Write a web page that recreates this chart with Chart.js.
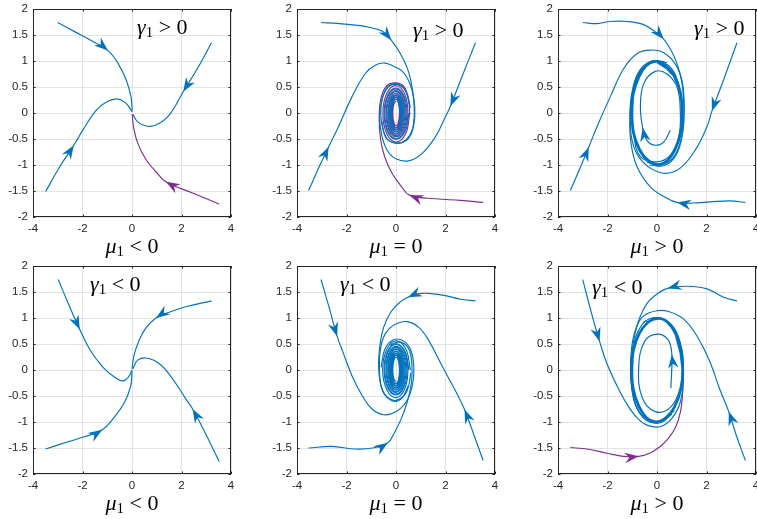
<!DOCTYPE html>
<html>
<head>
<meta charset="utf-8">
<script src="https://cdn.jsdelivr.net/npm/chart.js@4.4.1/dist/chart.umd.min.js"></script>
<style>
  body { margin: 0; width: 757px; height: 519px; background: #fff; position: relative; overflow: hidden; }
  canvas { position: absolute; }
  .lab { position: absolute; font-family: "Liberation Serif", "DejaVu Serif", serif; font-size: 22px; line-height: 22px; color: #000; white-space: nowrap; }
  .lab i { font-style: italic; }
  .lab sub { font-size: 0.68em; vertical-align: -0.22em; line-height: 0; }
</style>
</head>
<body>
<script>
// tick values shared by every panel
const xTickValues = [-4, -2, 0, 2, 4];
const yTickValues = [-2, -1.5, -1, -0.5, 0, 0.5, 1, 1.5, 2];

// bottom labels (mu_1 relation) and inner labels (gamma_1 relation)
const muRelations = ['<', '=', '>', '<', '=', '>'];
const gammaRelations = ['>', '>', '>', '<', '<', '<'];

// ---- panel 1 : mu<0, gamma>0
const p1A = [[-3.0,1.74],[-2.3,1.56],[-1.6,1.38],[-0.97,1.2],[-0.57,0.96],[-0.23,0.63],[-0.04,0.31],[0.01,0.04]];
const p1B = [[-3.49,-1.51],[-2.9,-1.02],[-2.35,-0.62],[-1.95,-0.3],[-1.45,0.05],[-1.0,0.22],[-0.57,0.27],[-0.25,0.19],[-0.07,0.08],[0.01,0.02]];
const p1C = [[3.21,1.35],[2.65,0.86],[2.07,0.41],[1.5,-0.04],[0.97,-0.23],[0.57,-0.25],[0.23,-0.17],[0.04,-0.03]];
const p1D = [[3.52,-1.75],[2.45,-1.54],[1.37,-1.32],[0.97,-1.13],[0.57,-0.9],[0.23,-0.58],[0.06,-0.26],[0.01,-0.02]];

// ---- panel 2 : mu=0, gamma>0
const p2E = [[-3.03,1.74],[-2.3,1.72],[-1.64,1.69],[-1.1,1.65],[-0.55,1.57],[-0.19,1.4],[0.2,1.12],[0.5,0.8],[0.68,0.4],[0.74,0.0],[0.65,-0.33],[0.4,-0.52],[0.05,-0.58],[-0.35,-0.5],[-0.58,-0.2],[-0.6,0.15],[-0.4,0.45],[-0.05,0.55],[0.35,0.45],[0.55,0.15]];
const p2F = [[-3.53,-1.49],[-3.1,-1.03],[-2.72,-0.65],[-2.32,-0.26],[-1.78,0.31],[-1.24,0.76],[-0.84,0.92],[-0.45,0.96],[-0.1,0.9],[0.26,0.8],[0.55,0.58],[0.72,0.28],[0.76,-0.05],[0.65,-0.36],[0.38,-0.54],[0.0,-0.58],[-0.4,-0.48],[-0.58,-0.15]];
const p2G = [[3.21,1.35],[2.7,0.74],[2.2,0.13],[1.95,-0.12],[1.59,-0.46],[1.05,-0.78],[0.5,-0.92],[0.0,-0.88],[-0.35,-0.72],[-0.58,-0.42],[-0.66,-0.05],[-0.55,0.3],[-0.3,0.52],[0.05,0.56],[0.4,0.42],[0.58,0.1]];
const p2H = [[3.52,-1.72],[2.6,-1.68],[1.6,-1.65],[0.54,-1.58],[0.2,-1.4],[-0.16,-1.16],[-0.45,-0.85],[-0.62,-0.52],[-0.68,-0.1],[-0.6,0.3],[-0.36,0.53],[-0.03,0.58],[0.3,0.52],[0.5,0.28],[0.55,-0.02]];
const p2SpiralBlue = [[0.52,0],[0.361,-0.361],[0,-0.505],[-0.346,-0.354],[-0.48,0],[-0.332,0.346],[0,0.48],[0.318,0.336],
  [0.44,0],[0.304,-0.325],[0,-0.455],[-0.29,-0.318],[-0.4,0],[-0.276,0.311],[0,0.43],[0.262,0.3],
  [0.36,0],[0.251,-0.29],[0,-0.405],[-0.24,-0.283],[-0.33,0],[-0.226,0.276],[0,0.385],[0.219,0.269],
  [0.3,0],[0.205,-0.262],[0,-0.365],[-0.198,-0.255],[-0.27,0],[-0.184,0.247],[0,0.345],[0.177,0.24],
  [0.24,0],[0.166,-0.233],[0,-0.325],[-0.156,-0.226],[-0.215,0],[-0.148,0.219],[0,0.305],[0.141,0.212],
  [0.195,0],[0.134,-0.205],[0,-0.285],[-0.127,-0.198],[-0.175,0],[-0.12,0.191],[0,0.265],[0.113,0.184],[0.155,0]];
const p2SpiralPurple = [[0.56,0],[0.39,-0.4],[0,-0.56],[-0.38,-0.39],[-0.53,0],[-0.37,0.38],[0,0.525],[0.35,0.365],
  [0.48,0],[0.332,-0.35],[0,-0.49],[-0.325,-0.343],[-0.45,0],[-0.311,0.336],[0,0.465],[0.29,0.322],
  [0.4,0],[0.276,-0.311],[0,-0.435],[-0.269,-0.304],[-0.37,0],[-0.255,0.297],[0,0.415],[0.24,0.29],
  [0.33,0],[0.226,-0.283],[0,-0.395],[-0.219,-0.276],[-0.3,0],[-0.205,0.269],[0,0.375],[0.198,0.262],
  [0.27,0],[0.184,-0.255],[0,-0.355],[-0.177,-0.247],[-0.245,0],[-0.17,0.244],[0,0.34],[0.159,0.237],
  [0.215,0],[0.148,-0.23],[0,-0.32],[-0.141,-0.223],[-0.195,0],[-0.134,0.219],[0,0.305],[0.127,0.212],
  [0.175,0],[0.12,-0.205],[0,-0.285],[-0.117,-0.198],[-0.16,0],[-0.11,0.194],[0,0.27],[0.103,0.187],
  [0.14,0],[0.095,-0.18],[0,-0.25],[-0.092,-0.173],[-0.13,0],[-0.088,0.166],[0,0.23]];

// ---- panel 3 : mu>0, gamma>0
const p3I = [[-3.0,1.74],[-2.42,1.72],[-1.89,1.76],[-1.21,1.76],[-0.54,1.7],[-0.05,1.55],[0.27,1.42],[0.55,1.22],[0.81,0.95],[1.0,0.6],[1.08,0.2],[1.07,-0.2],[0.95,-0.55],[0.65,-0.86],[0.15,-1.0],[-0.4,-0.95]];
const p3J = [[-3.5,-1.49],[-3.1,-1.05],[-2.76,-0.66],[-2.42,-0.26],[-1.89,0.31],[-1.35,0.85],[-0.81,1.14],[-0.27,1.21],[0.27,1.16],[0.74,0.94],[1.02,0.6],[1.1,0.1],[1.03,-0.4],[0.78,-0.8],[0.3,-1.01],[-0.3,-1.0]];
const p3K = [[3.23,1.35],[2.7,0.65],[2.22,0.04],[2.02,-0.26],[1.55,-0.71],[0.94,-1.06],[0.34,-1.16],[-0.27,-1.06],[-0.74,-0.84],[-1.01,-0.52],[-1.08,-0.13],[-1.02,0.3],[-0.78,0.72],[-0.3,0.98],[0.3,0.99]];
const p3L = [[3.57,-1.72],[2.96,-1.69],[2.15,-1.71],[1.45,-1.73],[0.81,-1.72],[0.4,-1.64],[-0.27,-1.42],[-0.81,-1.03],[-1.05,-0.58],[-1.1,-0.1],[-1.01,0.4],[-0.7,0.82],[-0.2,1.0],[0.4,0.97]];
const p3M = [[0.54,-0.33],[0.27,-0.56],[-0.07,-0.62],[-0.4,-0.53],[-0.58,-0.28],[-0.67,0.12],[-0.54,0.56],[-0.07,0.8],[0.4,0.75],[0.81,0.5],[0.94,0.05],[0.88,-0.46],[0.54,-0.81],[0.0,-0.94],[-0.67,-0.84],[-0.94,-0.4],[-0.98,0.12],[-0.81,0.69],[-0.13,0.98],[0.6,0.85],[1.0,0.3]];
const p3Cycle = [[-0.06,1.0],[0.7,0.71],[1.02,0],[0.73,-0.7],[0.06,-1.0],[-0.7,-0.71],[-1.02,0],[-0.73,0.7],
  [-0.06,0.99],[0.69,0.7],[1.0,0],[0.72,-0.69],[0.06,-0.985],[-0.69,-0.7],[-1.0,0],[-0.72,0.69],
  [-0.06,0.985],[0.71,0.72],[1.03,0],[0.74,-0.71],[0.06,-1.0],[-0.71,-0.72],[-1.03,0],[-0.74,0.71],[-0.06,1.0],[0.7,0.71]];

// ---- panel 4 : mu<0, gamma<0
const p4N = [[-2.98,1.74],[-2.55,1.25],[-2.11,0.78],[-1.71,0.4],[-1.17,0.05],[-0.7,-0.14],[-0.37,-0.21],[-0.12,-0.12],[0.0,0.0]];
const p4O = [[3.21,1.33],[2.2,1.22],[1.5,1.11],[0.97,1.0],[0.55,0.8],[0.27,0.55],[0.08,0.28],[0.0,0.02]];
const p4P = [[-3.49,-1.52],[-2.65,-1.39],[-1.9,-1.28],[-1.2,-1.15],[-0.77,-0.94],[-0.3,-0.62],[-0.05,-0.3],[0.0,-0.02]];
const p4Q = [[3.52,-1.76],[3.0,-1.25],[2.45,-0.75],[2.18,-0.56],[1.64,-0.17],[1.11,0.12],[0.57,0.23],[0.23,0.19],[0.03,0.02]];

// ---- panel 5 : mu=0, gamma<0
const p5R = [[-3.03,1.74],[-2.7,1.2],[-2.38,0.65],[-2.11,0.3],[-1.78,-0.11],[-1.37,-0.49],[-0.97,-0.75],[-0.5,-0.86],[-0.03,-0.81],[0.4,-0.62],[0.66,-0.3],[0.72,0.05],[0.6,0.38],[0.3,0.56],[-0.1,0.58],[-0.45,0.4],[-0.6,0.05]];
const p5S = [[3.21,1.33],[2.6,1.36],[2.0,1.43],[1.4,1.47],[0.95,1.47],[0.48,1.4],[0.15,1.3],[-0.2,1.12],[-0.5,0.82],[-0.65,0.47],[-0.7,0.05],[-0.58,-0.35],[-0.28,-0.55],[0.1,-0.57],[0.45,-0.4],[0.6,-0.05]];
const p5T = [[-3.53,-1.5],[-2.6,-1.47],[-1.64,-1.52],[-0.95,-1.5],[-0.33,-1.4],[-0.08,-1.22],[0.2,-0.95],[0.45,-0.62],[0.62,-0.25],[0.64,0.12],[0.5,0.42],[0.15,0.54],[-0.25,0.48]];
const p5U = [[3.52,-1.74],[3.15,-1.25],[2.77,-0.76],[2.4,-0.4],[1.86,0.08],[1.32,0.57],[0.92,0.82],[0.45,0.93],[-0.03,0.88],[-0.43,0.7],[-0.63,0.4],[-0.67,0.0],[-0.55,-0.38],[-0.2,-0.58],[0.2,-0.56],[0.5,-0.3]];
const p5Spiral1 = [[0.52,0],[0.361,0.361],[0,0.505],[-0.346,0.354],[-0.48,0],[-0.332,-0.346],[0,-0.48],[0.318,-0.336],
  [0.44,0],[0.304,0.325],[0,0.455],[-0.29,0.318],[-0.4,0],[-0.276,-0.311],[0,-0.43],[0.262,-0.3],
  [0.36,0],[0.251,0.29],[0,0.405],[-0.24,0.283],[-0.33,0],[-0.226,-0.276],[0,-0.385],[0.219,-0.269],
  [0.3,0],[0.205,0.262],[0,0.365],[-0.198,0.255],[-0.27,0],[-0.184,-0.247],[0,-0.345],[0.177,-0.24],
  [0.24,0],[0.166,0.233],[0,0.325],[-0.156,0.226],[-0.215,0],[-0.148,-0.219],[0,-0.305],[0.141,-0.212],
  [0.195,0],[0.134,0.205],[0,0.285],[-0.127,0.198],[-0.175,0],[-0.12,-0.191],[0,-0.265],[0.113,-0.184],[0.155,0]];
const p5Spiral2 = [[0.58,0],[0.4,0.4],[0,0.56],[-0.38,0.39],[-0.54,0],[-0.37,-0.38],[0,-0.53],[0.35,-0.365],
  [0.48,0],[0.332,0.35],[0,0.49],[-0.325,0.343],[-0.45,0],[-0.311,-0.336],[0,-0.465],[0.29,-0.322],
  [0.4,0],[0.276,0.311],[0,0.435],[-0.269,0.304],[-0.37,0],[-0.255,-0.297],[0,-0.415],[0.24,-0.29],
  [0.33,0],[0.226,0.283],[0,0.395],[-0.219,0.276],[-0.3,0],[-0.205,-0.269],[0,-0.375],[0.198,-0.262],
  [0.27,0],[0.184,0.255],[0,0.355],[-0.177,0.247],[-0.245,0],[-0.17,-0.244],[0,-0.34],[0.159,-0.237],
  [0.215,0],[0.148,0.23],[0,0.32],[-0.141,0.223],[-0.195,0],[-0.134,-0.219],[0,-0.305],[0.127,-0.212],
  [0.175,0],[0.12,0.205],[0,0.285],[-0.117,0.198],[-0.16,0],[-0.11,-0.194],[0,-0.27],[0.103,-0.187],
  [0.14,0],[0.095,0.18],[0,0.25],[-0.092,0.173],[-0.13,0],[-0.088,-0.166],[0,-0.23]];

// ---- panel 6 : mu>0, gamma<0
const p6V = [[-3.0,1.74],[-2.65,1.1],[-2.32,0.55],[-2.02,0.12],[-1.62,-0.3],[-1.21,-0.66],[-0.8,-0.92],[-0.4,-1.06],[0.13,-1.09],[0.6,-0.93],[0.94,-0.62],[1.07,-0.15],[1.0,0.35],[0.7,0.8],[0.15,1.0],[-0.45,0.92]];
const p6W = [[3.23,1.33],[2.69,1.4],[2.02,1.56],[1.21,1.61],[0.43,1.57],[0.0,1.46],[-0.4,1.28],[-0.72,0.98],[-0.93,0.6],[-1.05,0.15],[-1.03,-0.3],[-0.85,-0.7],[-0.45,-0.95],[0.1,-1.02],[0.6,-0.85]];
const p6X = [[-3.5,-1.49],[-2.83,-1.52],[-2.02,-1.6],[-1.35,-1.66],[-0.74,-1.66],[-0.3,-1.6],[0.13,-1.47],[0.45,-1.32],[0.75,-1.1],[0.95,-0.8],[1.04,-0.4],[1.06,0.0]];
const p6Y = [[3.57,-1.74],[3.2,-1.25],[2.9,-0.8],[2.56,-0.4],[2.1,0.2],[1.62,0.65],[1.1,0.97],[0.5,1.12],[0.0,1.14],[-0.54,1.04],[-0.85,0.8],[-1.02,0.45],[-1.07,0.0],[-0.98,-0.45],[-0.7,-0.82],[-0.2,-1.0]];
const p6Z = [[0.56,-0.35],[0.59,-0.05],[0.6,0.3],[0.45,0.58],[0.0,0.69],[-0.5,0.55],[-0.74,0.05],[-0.6,-0.53],[-0.07,-0.8],[0.54,-0.72],[0.94,-0.33],[1.0,0.25],[0.74,0.76],[0.07,1.0],[-0.6,0.88],[-1.0,0.3],[-0.97,-0.45],[-0.55,-0.92],[0.1,-1.0],[0.7,-0.78]];
const p6Cycle = [[1.04,0],[0.75,0.7],[0.06,1.0],[-0.7,0.72],[-1.01,0],[-0.73,-0.7],[-0.06,-1.0],[0.7,-0.72],
  [1.03,0],[0.74,0.69],[0.06,0.99],[-0.69,0.71],[-1.0,0],[-0.72,-0.69],[-0.06,-0.99],[0.69,-0.71],
  [1.05,0.01],[0.76,0.71],[0.06,0.985],[-0.71,0.72],[-1.02,0],[-0.74,-0.71],[-0.06,-1.0],[0.71,-0.72],[1.04,0],[0.75,0.7]];

const BLUE = '#0072BD';
const PURPLE = '#7E2F8E';
const GRID = '#e3e3e3';
const AXIS = '#262626';

// curve lists per panel: [points, colour, arrow index, line width]
const panels = [
  { left: 33, top: 9, curves: [[p1A, BLUE, 3], [p1B, BLUE, 2], [p1C, BLUE, 2], [p1D, PURPLE, 2]] },
  { left: 297, top: 9, curves: [[p2E, BLUE, 5], [p2F, BLUE, 2], [p2G, BLUE, 2], [p2SpiralBlue, BLUE, null], [p2SpiralPurple, PURPLE, null], [p2H, PURPLE, 3]] },
  { left: 558, top: 9, curves: [[p3I, BLUE, 6], [p3J, BLUE, 2], [p3K, BLUE, 2], [p3L, BLUE, 4], [p3M, BLUE, 4], [p3Cycle, BLUE, null, 2]] },
  { left: 33, top: 266, curves: [[p4N, BLUE, 2], [p4O, BLUE, 3], [p4P, BLUE, 3], [p4Q, BLUE, 2]] },
  { left: 297, top: 266, curves: [[p5R, BLUE, 2], [p5S, BLUE, 5], [p5T, BLUE, 4], [p5U, BLUE, 2], [p5Spiral1, BLUE, null], [p5Spiral2, BLUE, null]] },
  { left: 558, top: 266, curves: [[p6V, BLUE, 2], [p6W, BLUE, 4], [p6Y, BLUE, 2], [p6Z, BLUE, 2], [p6Cycle, BLUE, null, 2], [p6X, PURPLE, 4]] }
];

const PLOT_W = 198, PLOT_H = 208, Y_AXIS_W = 33, X_AXIS_H = 18, PAD_R = 10;

// arrowheads drawn at a data point, along the local direction of the curve
const arrowPlugin = {
  id: 'arrows',
  afterDatasetsDraw(chart) {
    const ctx = chart.ctx;
    chart.data.datasets.forEach((ds, k) => {
      if (ds.arrowAt == null) return;
      const pts = chart.getDatasetMeta(k).data;
      const i = ds.arrowAt;
      const a = pts[i - 1], b = pts[i], c = pts[i + 1] || b;
      let dx = c.x - a.x, dy = c.y - a.y;
      const len = Math.hypot(dx, dy);
      dx /= len; dy /= len;
      const L = 14, W = 5.2, notch = 9.5;
      ctx.save();
      ctx.fillStyle = ds.borderColor;
      ctx.beginPath();
      ctx.moveTo(b.x, b.y);
      ctx.lineTo(b.x - L * dx - W * dy, b.y - L * dy + W * dx);
      ctx.lineTo(b.x - notch * dx, b.y - notch * dy);
      ctx.lineTo(b.x - L * dx + W * dy, b.y - L * dy - W * dx);
      ctx.closePath();
      ctx.fill();
      ctx.restore();
    });
  }
};

// MATLAB style box with inward ticks
const boxPlugin = {
  id: 'box',
  afterDatasetsDraw(chart) {
    const ctx = chart.ctx, a = chart.chartArea;
    const xs = chart.scales.x, ys = chart.scales.y;
    ctx.save();
    ctx.strokeStyle = AXIS;
    ctx.lineWidth = 1;
    ctx.strokeRect(a.left + 0.5, a.top + 0.5, a.right - a.left - 1, a.bottom - a.top - 1);
    ctx.beginPath();
    xTickValues.forEach(v => {
      const px = Math.round(xs.getPixelForValue(v)) + 0.5;
      ctx.moveTo(px, a.bottom); ctx.lineTo(px, a.bottom - 2.5);
      ctx.moveTo(px, a.top); ctx.lineTo(px, a.top + 2.5);
    });
    yTickValues.forEach(v => {
      const py = Math.round(ys.getPixelForValue(v)) + 0.5;
      ctx.moveTo(a.left, py); ctx.lineTo(a.left + 2.5, py);
      ctx.moveTo(a.right, py); ctx.lineTo(a.right - 2.5, py);
    });
    ctx.stroke();
    ctx.restore();
  }
};

const tickFont = { family: '"Liberation Sans", Arial, sans-serif', size: 11.5 };

panels.forEach((p, idx) => {
  const cv = document.createElement('canvas');
  cv.width = Y_AXIS_W + PLOT_W + PAD_R;
  cv.height = 9 + PLOT_H + X_AXIS_H;
  cv.style.left = (p.left - Y_AXIS_W) + 'px';
  cv.style.top = (p.top - 9) + 'px';
  document.body.appendChild(cv);

  const datasets = p.curves.map(c => ({
    data: c[0].map(q => ({ x: q[0], y: q[1] })),
    showLine: true,
    borderColor: c[1],
    borderWidth: c[3] || 1.15,
    tension: 0.4,
    pointRadius: 0,
    fill: false,
    arrowAt: c[2]
  }));

  new Chart(cv, {
    type: 'scatter',
    data: { datasets },
    plugins: [arrowPlugin, boxPlugin],
    options: {
      responsive: false,
      devicePixelRatio: 1,
      animation: false,
      events: [],
      layout: { padding: { top: 9, right: PAD_R, left: 0, bottom: 0 } },
      plugins: { legend: { display: false }, tooltip: { enabled: false } },
      scales: {
        x: {
          type: 'linear', min: -4, max: 4,
          afterBuildTicks: s => { s.ticks = xTickValues.map(v => ({ value: v })); },
          afterFit: s => { s.height = X_AXIS_H; s.paddingLeft = 0; s.paddingRight = 0; },
          grid: { color: GRID, drawTicks: false },
          border: { display: false },
          ticks: { padding: 5, color: AXIS, font: tickFont, maxRotation: 0, autoSkip: false, callback: v => String(v) }
        },
        y: {
          type: 'linear', min: -2, max: 2,
          afterBuildTicks: s => { s.ticks = yTickValues.map(v => ({ value: v })); },
          afterFit: s => { s.width = Y_AXIS_W; s.paddingTop = 0; s.paddingBottom = 0; },
          grid: { color: GRID, drawTicks: false },
          border: { display: false },
          ticks: { padding: 5, color: AXIS, font: tickFont, autoSkip: false, callback: v => String(v) }
        }
      }
    }
  });

  // mu label under the panel
  const mu = document.createElement('div');
  mu.className = 'lab';
  mu.innerHTML = '<i>\u03bc</i><sub>1</sub> ' + muRelations[idx].replace('<', '&lt;').replace('>', '&gt;') + ' 0';
  mu.style.left = (p.left + PLOT_W / 2) + 'px';
  mu.style.transform = 'translateX(-50%)';
  mu.style.top = (p.top + PLOT_H + 18) + 'px';
  document.body.appendChild(mu);
});

// gamma labels inside the panels
const gammaPos = [[137, 16], [413, 19], [694, 17], [90, 273], [340, 273], [592, 276]];
gammaPos.forEach((g, idx) => {
  const d = document.createElement('div');
  d.className = 'lab';
  d.innerHTML = '<i>\u03b3</i><sub>1</sub> ' + gammaRelations[idx].replace('<', '&lt;').replace('>', '&gt;') + ' 0';
  d.style.left = g[0] + 'px';
  d.style.top = g[1] + 'px';
  document.body.appendChild(d);
});
</script>
</body>
</html>
